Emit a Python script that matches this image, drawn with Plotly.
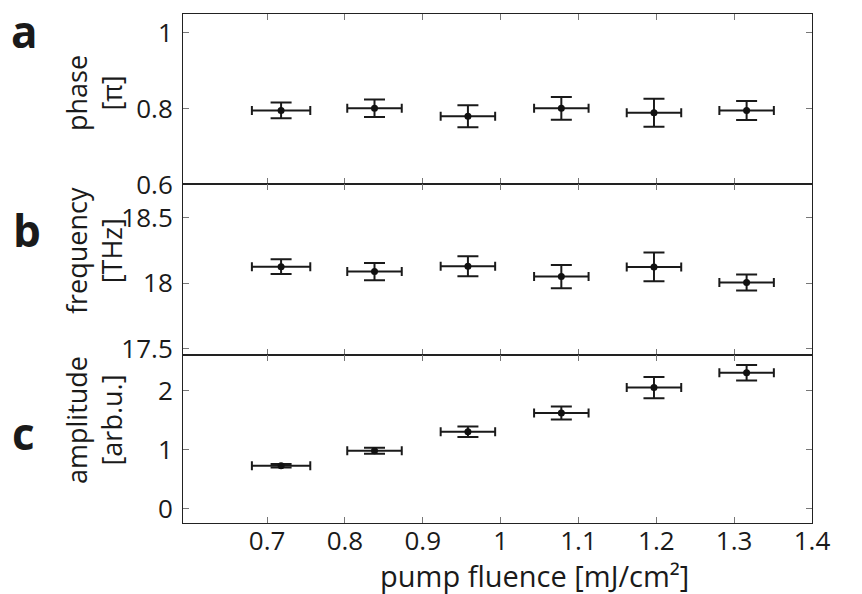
import plotly.graph_objects as go
from plotly.subplots import make_subplots

# ---- data ----
fluence = [0.718, 0.838, 0.958, 1.078, 1.197, 1.316]
fluence_err = [0.0375, 0.035, 0.035, 0.035, 0.035, 0.035]

phase = [0.7955, 0.801, 0.780, 0.801, 0.789, 0.795]
phase_err = [0.021, 0.023, 0.029, 0.030, 0.037, 0.025]

frequency = [18.126, 18.088, 18.129, 18.050, 18.124, 18.005]
frequency_err = [0.057, 0.066, 0.076, 0.089, 0.110, 0.061]

amplitude = [0.724, 0.978, 1.30, 1.617, 2.05, 2.30]
amplitude_err = [0.03, 0.05, 0.09, 0.11, 0.18, 0.13]

x_ticks = [0.7, 0.8, 0.9, 1.0, 1.1, 1.2, 1.3, 1.4]
x_ticktext = ["0.7", "0.8", "0.9", "1", "1.1", "1.2", "1.3", "1.4"]
phase_ticks = [0.6, 0.8, 1.0]
phase_ticktext = ["0.6", "0.8", "1"]
freq_ticks = [17.5, 18.0, 18.5]
freq_ticktext = ["17.5", "18", "18.5"]
amp_ticks = [0, 1, 2]
amp_ticktext = ["0", "1", "2"]

panel_letters = ["a", "b", "c"]
y_titles = ["phase<br>[π]", "frequency<br>[THz]", "amplitude<br>[arb.u.]"]
x_title = "pump fluence [mJ/cm²]"

FONT = "Open Sans"
W, H = 862, 594
L, R, T, B = 183, 50, 14, 71

fig = make_subplots(rows=3, cols=1, shared_xaxes=True, vertical_spacing=0)

series = [(phase, phase_err), (frequency, frequency_err), (amplitude, amplitude_err)]
for i, (yv, ye) in enumerate(series, start=1):
    fig.add_trace(go.Scatter(
        x=fluence, y=yv, mode="markers",
        marker=dict(color="#111111", size=7, symbol="circle"),
        error_x=dict(type="data", array=fluence_err, color="#1a1a1a", thickness=2, width=4.5),
        error_y=dict(type="data", array=ye, color="#1a1a1a", thickness=2, width=10.5),
        showlegend=False,
    ), row=i, col=1)

# domains (paper fractions from bottom)
doms = [[0.6652, 1.0], [0.3305, 0.6652], [0.0, 0.3305]]
yranges = [[0.6, 1.05], [17.454, 18.753], [-0.247, 2.605]]
yticks = [(phase_ticks, phase_ticktext), (freq_ticks, freq_ticktext), (amp_ticks, amp_ticktext)]

axis_common = dict(
    showline=True, linecolor="#222222", linewidth=1, mirror="ticks",
    ticks="inside", ticklen=6, tickwidth=1, tickcolor="#777777",
    showgrid=False, zeroline=False,
    tickfont=dict(family=FONT, size=26, color="#1a1a1a"),
)

for i in range(3):
    yname = "yaxis" if i == 0 else f"yaxis{i+1}"
    xname = "xaxis" if i == 0 else f"xaxis{i+1}"
    fig.layout[yname].update(domain=doms[i], range=yranges[i],
                             tickvals=yticks[i][0], ticktext=yticks[i][1],
                             ticklabelstandoff=4, **axis_common)
    fig.layout[xname].update(range=[0.592, 1.4], tickvals=x_ticks, ticktext=x_ticktext,
                             showticklabels=(i == 2), ticklabelstandoff=-5, **axis_common)

ph = H - T - B
def py(pix):
    return (H - B - pix) / ph
pw = W - L - R
def px(pix):
    return (pix - L) / pw

# y-axis titles
title_pos = [(94, 93), (94, 251), (94, 420)]
for txt, (xp, yp) in zip(y_titles, title_pos):
    fig.add_annotation(text=txt, x=px(xp), y=py(yp), xref="paper", yref="paper",
                       textangle=-90, showarrow=False, xanchor="center", yanchor="middle",
                       font=dict(family=FONT, size=27, color="#1a1a1a"))

# panel letters
letter_pos = [(24, 31), (27, 230), (23, 433)]
for txt, (xp, yp) in zip(panel_letters, letter_pos):
    fig.add_annotation(text=f"<b>{txt}</b>", x=px(xp), y=py(yp), xref="paper", yref="paper",
                       showarrow=False, xanchor="center", yanchor="middle",
                       font=dict(family=FONT, size=44, color="#1a1a1a"))

# x title
fig.add_annotation(text=x_title, x=px(534), y=py(575), xref="paper", yref="paper",
                   showarrow=False, xanchor="center", yanchor="middle",
                   font=dict(family=FONT, size=29, color="#1a1a1a"))

fig.update_layout(
    width=W, height=H,
    margin=dict(l=L, r=R, t=T, b=B),
    plot_bgcolor="white", paper_bgcolor="white",
    font=dict(family=FONT),
)

fig.write_html("out.html")
